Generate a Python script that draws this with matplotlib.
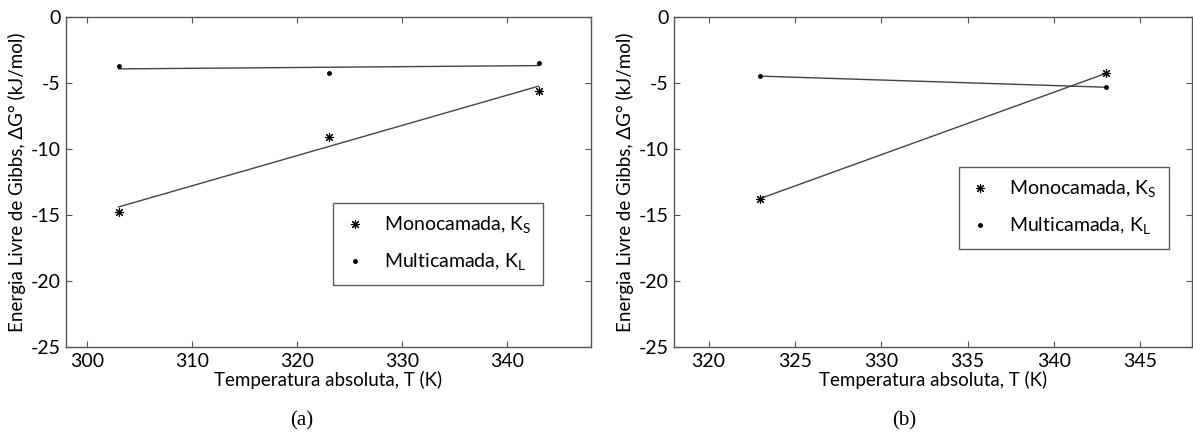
import numpy as np
import matplotlib
matplotlib.use("Agg")
import matplotlib.pyplot as plt

# (a) three temperatures
temp_a = [303, 323, 343]
mono_a = [-14.75, -9.1, -5.6]
multi_a = [-3.7, -4.27, -3.45]

# (b) two temperatures
temp_b = [323, 343]
mono_b = [-13.75, -4.28]
multi_b = [-4.48, -5.32]

yticks = [0, -5, -10, -15, -20, -25]
xticks_a = [300, 310, 320, 330, 340]
xticks_b = [320, 325, 330, 335, 340, 345]

plt.rcParams['font.family'] = ['Lato', 'DejaVu Sans']
plt.rcParams['mathtext.fontset'] = 'custom'
plt.rcParams['mathtext.rm'] = 'Lato'
plt.rcParams['axes.unicode_minus'] = False

W, H = 1193, 432
fig = plt.figure(figsize=(W / 100, H / 100), dpi=100)

ax_a = fig.add_axes([66 / W, 1 - 347 / H, 525 / W, 330 / H])
ax_b = fig.add_axes([674 / W, 1 - 347 / H, 518 / W, 330 / H])

star = (8, 2, 0)


def draw(ax, t, mono, multi, xlim, xticks, leg_pos):
    t = np.array(t, dtype=float)
    pm = np.polyfit(t, mono, 1)
    pl = np.polyfit(t, multi, 1)
    ax.plot(t, np.polyval(pm, t), color='#444444', lw=1.0)
    ax.plot(t, np.polyval(pl, t), color='#444444', lw=1.0)
    ax.plot(t, mono, ls='none', marker=star, ms=6.5, mew=0.8, color='black',
            label='Monocamada, K$_\\mathregular{S}$')
    ax.plot(t, multi, ls='none', marker='.', ms=5, color='black',
            label='Multicamada, K$_\\mathregular{L}$')
    ax.set_xlim(*xlim)
    ax.set_ylim(-25, 0)
    ax.set_xticks(xticks)
    ax.set_yticks(yticks)
    ax.tick_params(direction='in', top=True, right=True, length=4,
                   width=0.8, color='#555555', labelsize=14, pad=4)
    for s in ax.spines.values():
        s.set_color('#555555')
        s.set_linewidth(1.0)
    ax.set_xlabel('Temperatura absoluta, T (K)', fontsize=13.5, labelpad=1)
    ax.set_ylabel('Energia Livre de Gibbs, ΔG° (kJ/mol)', fontsize=13.5,
                  labelpad=3)
    leg = ax.legend(loc='upper left', bbox_to_anchor=leg_pos, fontsize=14,
                    frameon=True, fancybox=False, borderpad=0.6,
                    labelspacing=0.8, handlelength=1.0, handletextpad=1.0,
                    borderaxespad=0)
    leg.get_frame().set_edgecolor('#333333')
    leg.get_frame().set_linewidth(1.0)


draw(ax_a, temp_a, mono_a, multi_a, (298, 348), xticks_a, (0.509, 0.436))
draw(ax_b, temp_b, mono_b, multi_b, (318, 348), xticks_b, (0.550, 0.545))

fig.text(302 / W, 1 - 421 / H, '(a)', ha='center', va='center',
         family='Liberation Serif', fontsize=15)
fig.text(904 / W, 1 - 421 / H, '(b)', ha='center', va='center',
         family='Liberation Serif', fontsize=15)

fig.savefig('out.png', dpi=100)
